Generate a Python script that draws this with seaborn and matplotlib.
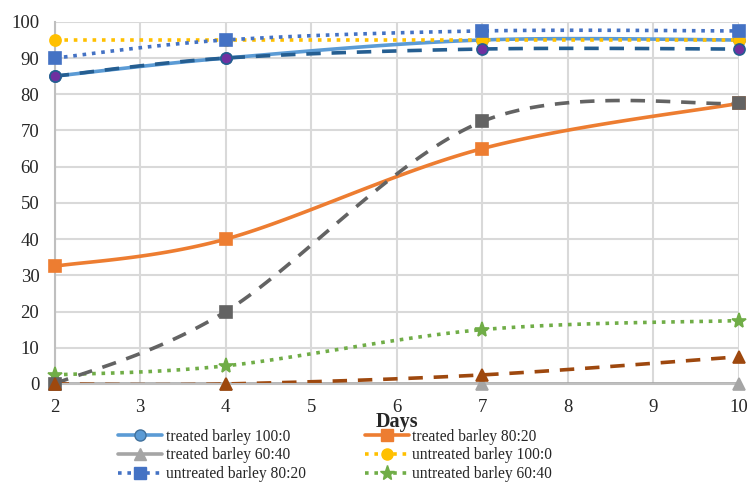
import matplotlib
matplotlib.use("Agg")
import matplotlib.pyplot as plt
import seaborn as sns
import numpy as np

# data
days = [2, 4, 7, 10]
treated_100 = [85, 90, 95, 95]
treated_80 = [32.5, 40, 65, 77.5]
treated_60 = [0, 0, 0, 0]
untreated_100 = [95, 95, 95, 95]
untreated_80 = [90, 95, 97.5, 97.5]
untreated_60 = [2.5, 5, 15, 17.5]
extra_a = [85, 90, 92.5, 92.5]
extra_b = [0, 20, 72.5, 77.5]
extra_c = [0, 0, 2.5, 7.5]

sns.set_style("white")
plt.rcParams['font.family'] = ['Liberation Serif', 'DejaVu Serif']


def smooth(xs, ys, n=40):
    # Excel-like smoothed line (Catmull-Rom bezier) through the data points
    P = np.column_stack([xs, ys]).astype(float)
    P = np.vstack([P[0], P, P[-1]])
    out = []
    for i in range(1, len(P) - 2):
        p0, p1, p2, p3 = P[i - 1], P[i], P[i + 1], P[i + 2]
        c1 = p1 + (p2 - p0) / 6
        c2 = p2 - (p3 - p1) / 6
        t = np.linspace(0, 1, n)[:, None]
        seg = ((1 - t) ** 3) * p1 + 3 * ((1 - t) ** 2) * t * c1 + 3 * (1 - t) * t ** 2 * c2 + t ** 3 * p2
        out.append(seg)
    seg = np.vstack(out)
    return seg[:, 0], seg[:, 1]


series = [
    # label, values, color, linestyle, marker, marker face, marker edge, in legend
    ("treated barley 100:0", treated_100, "#5B9BD5", "-", "o", "#5B9BD5", "#41719C", True),
    ("treated barley 80:20", treated_80, "#ED7D31", "-", "s", "#ED7D31", "#ED7D31", True),
    ("treated barley 60:40", treated_60, "#A5A5A5", "-", "^", "#A5A5A5", "#A5A5A5", True),
    ("untreated barley 100:0", untreated_100, "#FFC000", (0, (1, 1.6)), "o", "#FFC000", "#FFC000", True),
    ("untreated barley 80:20", untreated_80, "#4472C4", (0, (1, 1.6)), "s", "#4472C4", "#4472C4", True),
    ("untreated barley 60:40", untreated_60, "#70AD47", (0, (1, 1.6)), "*", "#70AD47", "#70AD47", True),
    ("extra 1", extra_a, "#255E91", (0, (4, 3)), "o", "#7030A0", "#255E91", False),
    ("extra 2", extra_b, "#636363", (0, (4, 3)), "s", "#636363", "#636363", False),
    ("extra 3", extra_c, "#9E480E", (0, (4, 3)), "^", "#9E480E", "#9E480E", False),
]

fig, ax = plt.subplots(figsize=(7.48, 4.86), dpi=100)
fig.subplots_adjust(left=0.073, right=0.988, top=0.955, bottom=0.21)

handles = []
for label, vals, col, ls, mk, mfc, mec, show in series:
    sx, sy = smooth(days, vals)
    sns.lineplot(x=sx, y=sy, ax=ax, color=col, linestyle=ls, linewidth=2.6, sort=False,
                 estimator=None, legend=False)
    ms = 11 if mk == "*" else 8
    ax.plot(days, vals, linestyle="none", marker=mk, markersize=ms, color=mfc,
            markeredgecolor=mec, markeredgewidth=1.2, clip_on=False, zorder=5)
    if show:
        h, = ax.plot([], [], color=col, linestyle=ls, linewidth=2.6, marker=mk,
                     markersize=ms, markerfacecolor=mfc, markeredgecolor=mec)
        handles.append((h, label))

# legend fills row by row in the reference
order = [0, 2, 4, 1, 3, 5]
handles = [handles[i] for i in order]

ax.set_xlim(2, 10)
ax.set_ylim(0, 100)
ax.set_xticks(range(2, 11))
ax.set_yticks(range(0, 101, 10))
ax.grid(True, color="#D9D9D9", linewidth=1.5)
ax.set_axisbelow(True)
for s in ["top", "right"]:
    ax.spines[s].set_visible(False)
for s in ["left", "bottom"]:
    ax.spines[s].set_color("#BFBFBF")
    ax.spines[s].set_linewidth(1.5)
ax.tick_params(axis="both", labelsize=13.5, length=0, pad=11, colors="#262626")
ax.set_xlabel("Days", fontsize=14.5, fontweight="bold", labelpad=-3)

fig.legend([h for h, _ in handles], [l for _, l in handles], ncol=2, loc="upper left",
           bbox_to_anchor=(0.148, 0.134), frameon=False, fontsize=11.2,
           handlelength=2.8, columnspacing=3.8, labelspacing=0.18, handletextpad=0.25,
           borderpad=0, bbox_transform=fig.transFigure)

fig.savefig("out.png", dpi=100)
